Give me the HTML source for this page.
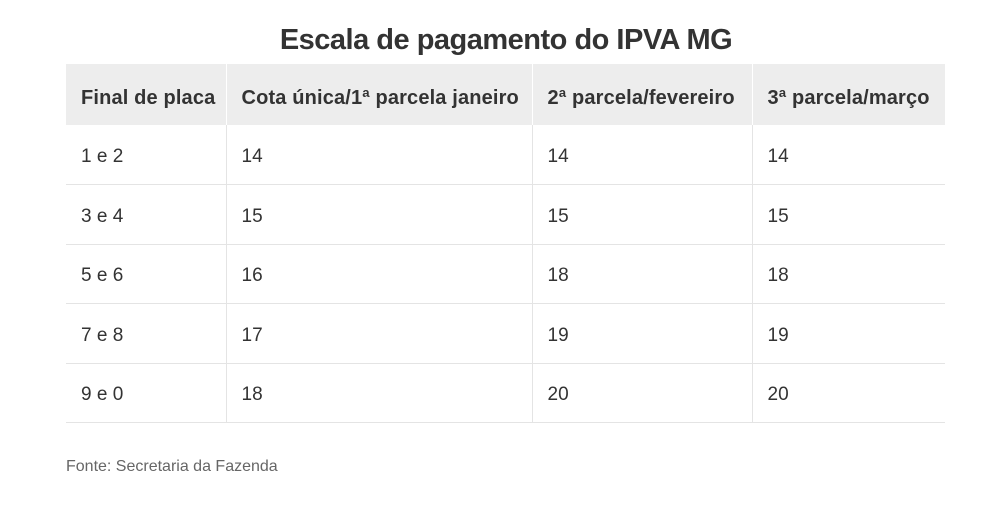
<!DOCTYPE html>
<html><head><meta charset="utf-8"><style>
body{margin:0;width:1000px;height:515px;background:#fff;font-family:"Liberation Sans",sans-serif;color:#333;position:relative;overflow:hidden}
h1{position:absolute;top:24px;left:0;width:1012px;margin:0;text-align:center;font-size:29px;font-weight:bold;color:#333;letter-spacing:-0.5px}
table{position:absolute;left:66px;top:64px;width:879px;border-collapse:collapse;font-size:19px}
th,td{text-align:left;padding:0 0 0 15px;border-left:1px solid #e4e4e4;box-sizing:border-box}
th:first-child,td:first-child{border-left:none}
th{background:#ededed;height:61px;font-weight:bold;border-left:1px solid #fff;font-size:20px;letter-spacing:0.15px;padding-top:7px}
td{height:59.5px;border-bottom:1px solid #e4e4e4;padding-top:5px}
.f{position:absolute;left:66px;top:458px;font-size:16px;color:#666}
</style></head><body>
<h1>Escala de pagamento do IPVA MG</h1>
<table>
<colgroup><col style="width:160px"><col style="width:306px"><col style="width:220px"><col style="width:193px"></colgroup>
<tr><th>Final de placa</th><th>Cota única/1ª parcela janeiro</th><th>2ª parcela/fevereiro</th><th>3ª parcela/março</th></tr>
<tr><td>1 e 2</td><td>14</td><td>14</td><td>14</td></tr>
<tr><td>3 e 4</td><td>15</td><td>15</td><td>15</td></tr>
<tr><td>5 e 6</td><td>16</td><td>18</td><td>18</td></tr>
<tr><td>7 e 8</td><td>17</td><td>19</td><td>19</td></tr>
<tr><td>9 e 0</td><td>18</td><td>20</td><td>20</td></tr>
</table>
<div class="f">Fonte: Secretaria da Fazenda</div>
</body></html>
